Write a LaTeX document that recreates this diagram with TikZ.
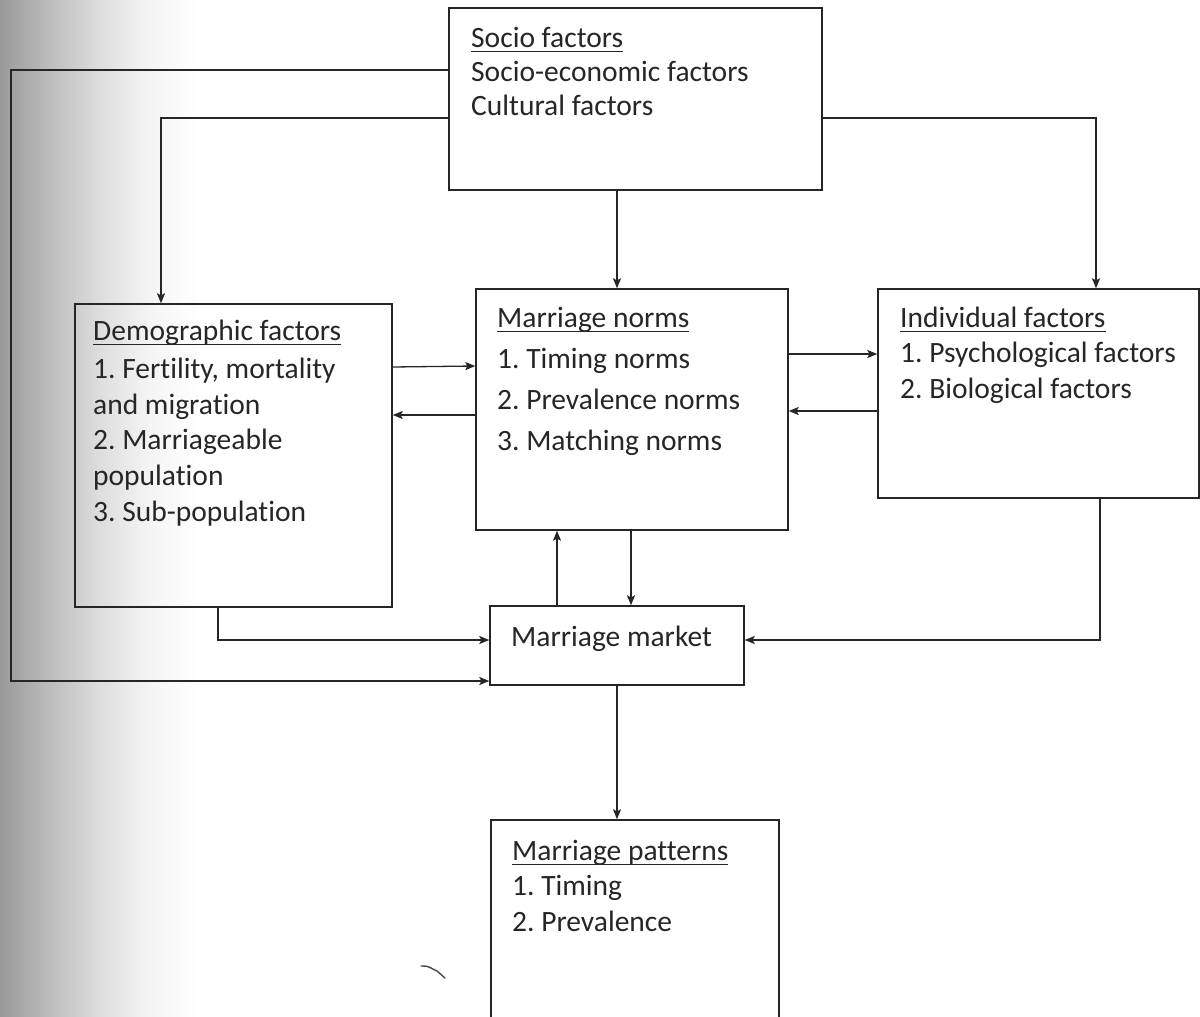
\documentclass[tikz,border=0pt]{standalone}
\usepackage{fontspec}
\setmainfont{Carlito}[Ligatures={NoCommon}]
\frenchspacing
\usetikzlibrary{arrows.meta}
\newcommand\myul[1]{\setbox0\hbox{#1}\rlap{\rule[-5pt]{\wd0}{1.3pt}}\box0}
\definecolor{ink}{HTML}{262626}
\pgfdeclarehorizontalshading{scanedge}{100bp}{color(0bp)=(black!40); color(25bp)=(black!40); color(37.5bp)=(black!26); color(50bp)=(black!13); color(62.5bp)=(black!4); color(75bp)=(white); color(100bp)=(white)}
\tikzset{
  box/.style={draw=ink, line width=1.4pt, inner sep=0pt, rectangle},
  txt/.style={anchor=base west, inner sep=0pt, text=ink, font=\fontsize{29.5}{35}\selectfont\frenchspacing},
  conn/.style={draw=ink, line width=1.3pt},
  arr/.style={conn, -{Stealth[length=10pt,width=8pt,inset=2pt]}}
}
\begin{document}
\begin{tikzpicture}[x=1pt,y=-1pt]
\useasboundingbox (0,0) rectangle (1200,1017);
\clip (0,0) rectangle (1200,1017);
\shade[shading=scanedge] (0,0) rectangle (200,1017);

% boxes
\node[box, minimum width=373pt, minimum height=182pt] (socio) at (635.5,99) {};
\node[box, minimum width=317pt, minimum height=303pt] (demo) at (233.5,455.5) {};
\node[box, minimum width=312pt, minimum height=241pt] (norms) at (632,409.5) {};
\node[box, minimum width=321pt, minimum height=209pt] (indiv) at (1038.5,393.5) {};
\node[box, minimum width=254pt, minimum height=79pt] (market) at (617,645.5) {};
\node[box, minimum width=288pt, minimum height=220pt] (patterns) at (635,930) {};

% texts
\node[txt] (s1) at (471,47) {\myul{Socio factors}};
\node[txt] (s2) at (471,81) {Socio-economic factors};
\node[txt] (s3) at (471,115) {Cultural factors};

\node[txt] (d1) at (93,340) {\myul{Demographic factors}};
\node[txt] (d2) at (93,378) {1. Fertility, mortality};
\node[txt] (d3) at (93,414) {and migration};
\node[txt] (d4) at (93,449) {2. Marriageable};
\node[txt] (d5) at (93,485) {population};
\node[txt] (d6) at (93,521) {3. Sub-population};

\node[txt] (n1) at (497,327) {\myul{Marriage norms}};
\node[txt] (n2) at (497,368) {1. Timing norms};
\node[txt] (n3) at (497,409) {2. Prevalence norms};
\node[txt] (n4) at (497,450) {3. Matching norms};

\node[txt] (i1) at (900,327) {\myul{Individual factors}};
\node[txt] (i2) at (900,362) {1. Psychological factors};
\node[txt] (i3) at (900,398) {2. Biological factors};

\node[txt] (m1) at (511,646) {Marriage market};

\node[txt] (p1) at (512,860) {\myul{Marriage patterns}};
\node[txt] (p2) at (512,895) {1. Timing};
\node[txt] (p3) at (512,931) {2. Prevalence};

% connectors
\draw[arr] (socio.west |- 0,70) -| (11,681) -- (market.west |- 0,681);
\draw[arr] (socio.west |- 0,118) -| (demo.north -| 161,0);
\draw[arr] (socio.east |- 0,118) -| (indiv.north -| 1096,0);
\draw[arr] (socio.south -| 617,0) -- (norms.north -| 617,0);
\draw[arr] (demo.east |- 0,367) -- (norms.west |- 0,366);
\draw[arr] (norms.west |- 0,415) -- (demo.east |- 0,415);
\draw[arr] (norms.east |- 0,354) -- (indiv.west |- 0,354);
\draw[arr] (indiv.west |- 0,411) -- (norms.east |- 0,411);
\draw[arr] (market.north -| 557,0) -- (norms.south -| 557,0);
\draw[arr] (norms.south -| 631,0) -- (market.north -| 631,0);
\draw[arr] (demo.south -| 218,0) |- (market.west |- 0,640);
\draw[arr] (indiv.south -| 1100,0) |- (market.east |- 0,640);
\draw[arr] (market.south -| 617,0) -- (patterns.north -| 617,0);

% scan mark
\draw[ink!85, line width=1.4pt, line cap=round] (421,966) .. controls (428,965) and (432,969) .. (437,971) .. controls (440,973) and (442,976) .. (445,978);
\end{tikzpicture}
\end{document}
